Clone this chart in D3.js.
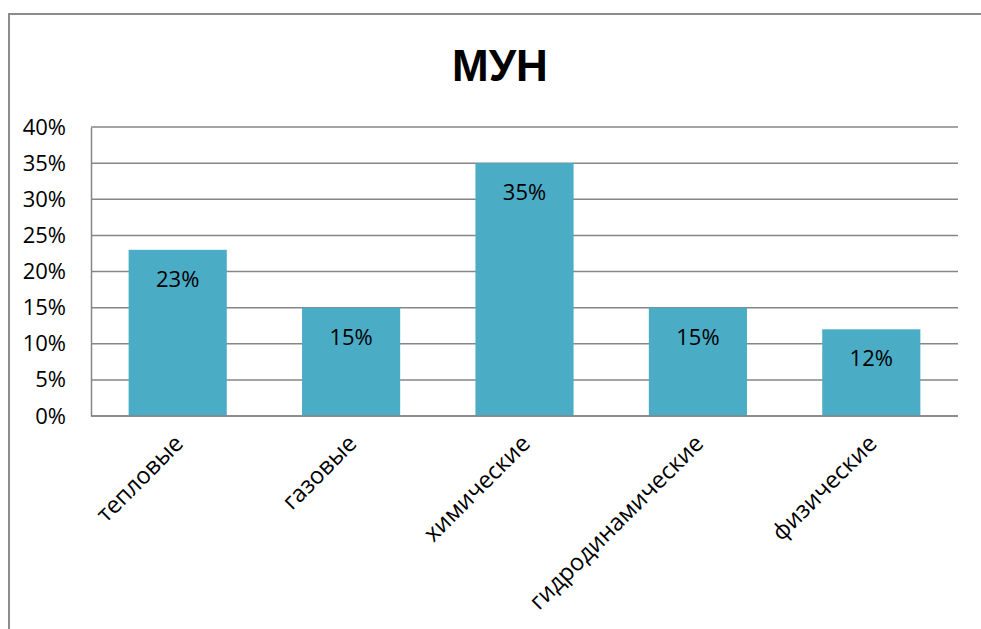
<!DOCTYPE html>
<html>
<head>
<meta charset="utf-8">
<script src="https://cdn.jsdelivr.net/npm/d3@7"></script>
<style>
  html, body { margin: 0; padding: 0; background: #fff; }
  svg { display: block; }
</style>
</head>
<body>
<svg id="chart" width="981" height="629"></svg>
<script>
// Chart data
const title = "МУН";
const categories = ["тепловые", "газовые", "химические", "гидродинамические", "физические"];
const values = [23, 15, 35, 15, 12];
const yTicks = [0, 5, 10, 15, 20, 25, 30, 35, 40];

const W = 981, H = 629;
const margin = { left: 91, right: 23, top: 127, bottom: 213 };
const font = "'Open Sans', 'Liberation Sans', sans-serif";
const barColor = "#4BACC6";
const gridColor = "#868686";

const svg = d3.select("#chart");

// Outer frame of the chart object
svg.append("rect")
  .attr("x", 9).attr("y", 14)
  .attr("width", W + 10).attr("height", H + 10)
  .attr("fill", "#fff")
  .attr("stroke", "#8c8c8c").attr("stroke-width", 2);

const x = d3.scaleBand()
  .domain(categories)
  .range([margin.left, W - margin.right])
  .paddingInner(0.434).paddingOuter(0.217);

const y = d3.scaleLinear()
  .domain([0, 40])
  .range([H - margin.bottom, margin.top]);

// Title
svg.append("text")
  .attr("x", 500).attr("y", 81)
  .attr("text-anchor", "middle")
  .attr("font-family", "'Liberation Sans', Arial, sans-serif")
  .attr("font-weight", "bold")
  .attr("font-size", 44)
  .attr("fill", "#000")
  .text(title);

// Horizontal gridlines
svg.append("g")
  .selectAll("line")
  .data(yTicks)
  .join("line")
  .attr("x1", margin.left).attr("x2", W - margin.right)
  .attr("y1", d => y(d)).attr("y2", d => y(d))
  .attr("stroke", gridColor).attr("stroke-width", 1.5);

// Y axis with percentage labels
const yAxis = d3.axisLeft(y)
  .tickValues(yTicks)
  .tickSize(0)
  .tickPadding(25)
  .tickFormat(d => d + "%");

svg.append("g")
  .attr("transform", `translate(${margin.left},0)`)
  .call(yAxis)
  .call(g => g.select(".domain").attr("stroke", gridColor).attr("stroke-width", 1.5))
  .call(g => g.selectAll("text")
    .attr("font-family", font)
    .attr("font-size", 22)
    .attr("fill", "#000"));

// Bars
svg.append("g")
  .selectAll("rect")
  .data(values)
  .join("rect")
  .attr("x", (d, i) => x(categories[i]))
  .attr("y", d => y(d))
  .attr("width", x.bandwidth())
  .attr("height", d => y(0) - y(d))
  .attr("fill", barColor);

// Value labels inside bars
svg.append("g")
  .selectAll("text")
  .data(values)
  .join("text")
  .attr("x", (d, i) => x(categories[i]) + x.bandwidth() / 2)
  .attr("y", d => y(d) + 37)
  .attr("text-anchor", "middle")
  .attr("font-family", font)
  .attr("font-size", 22)
  .attr("fill", "#000")
  .text(d => d + "%");

// X axis baseline
svg.append("line")
  .attr("x1", margin.left).attr("x2", W - margin.right)
  .attr("y1", y(0)).attr("y2", y(0))
  .attr("stroke", gridColor).attr("stroke-width", 1.5);

// Rotated category labels
svg.append("g")
  .selectAll("text")
  .data(categories)
  .join("text")
  .attr("transform", d => `translate(${x(d) + x.bandwidth() / 2 + 7},${y(0) + 29}) rotate(-45)`)
  .attr("text-anchor", "end")
  .attr("font-family", font)
  .attr("font-size", 23.5)
  .attr("fill", "#000")
  .text(d => d);
</script>
</body>
</html>
